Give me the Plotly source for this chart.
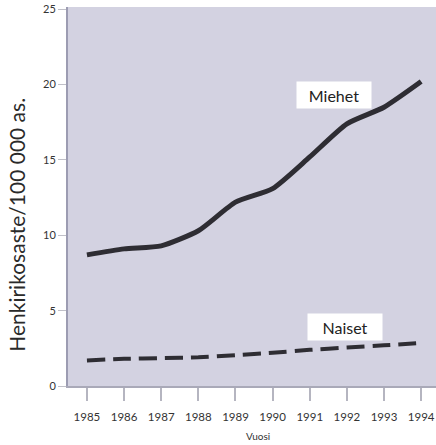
import plotly.graph_objects as go

years = [1985, 1986, 1987, 1988, 1989, 1990, 1991, 1992, 1993, 1994]
miehet = [8.7, 9.1, 9.3, 10.3, 12.2, 13.1, 15.2, 17.4, 18.5, 20.2]
naiset = [1.7, 1.8, 1.85, 1.9, 2.05, 2.2, 2.4, 2.55, 2.7, 2.85]
y_ticks = [0, 5, 10, 15, 20, 25]
x_title = "Vuosi"
y_title = "Henkirikosaste/100 000 as."

fig = go.Figure()
fig.add_trace(go.Scatter(x=years, y=miehet, mode="lines", name="Miehet",
                         line=dict(color="#2e2d33", width=5, shape="spline", smoothing=0.6)))
fig.add_trace(go.Scatter(x=years, y=naiset, mode="lines", name="Naiset",
                         line=dict(color="#2e2d33", width=4, dash="18px,8px", shape="spline", smoothing=0.6)))

fig.add_annotation(x=1991.65, y=19.3, text="Miehet", showarrow=False, bgcolor="white",
                   font=dict(family="Lato", size=16, color="#222"), width=72, height=24)
fig.add_annotation(x=1991.95, y=3.9, text="Naiset", showarrow=False, bgcolor="white",
                   font=dict(family="Lato", size=16, color="#222"), width=72, height=24)
fig.add_annotation(xref="paper", yref="paper", x=0.515, y=-0.153, text=x_title, showarrow=False,
                   font=dict(family="Lato", size=10, color="#333"), yanchor="bottom")
fig.add_annotation(xref="paper", yref="paper", x=-0.139, y=0.425, text=y_title, showarrow=False,
                   textangle=-90, font=dict(family="Lato", size=21, color="#2a2a2a"),
                   xanchor="center", yanchor="middle")

fig.update_layout(
    width=436, height=445,
    margin=dict(l=68, r=0, t=7, b=59),
    paper_bgcolor="white", plot_bgcolor="#d3d2e1",
    showlegend=False,
    font=dict(family="Lato", size=11, color="#333"),
    xaxis=dict(range=[1984.49, 1994.4], tickvals=years, ticks="outside", ticklen=13,
               tickcolor="#b5b5c0", tickwidth=1.5, showgrid=False, zeroline=False,
               showline=True, linecolor="#a9a9b8", linewidth=2, ticklabelstandoff=6,
               tickfont=dict(family="Lato", size=11.5, color="#333")),
    yaxis=dict(range=[0, 25.15], tickvals=y_ticks, ticks="outside", ticklen=8,
               tickcolor="#c0c0c8", showgrid=False, zeroline=False,
               showline=True, linecolor="#9c9cb2", linewidth=2,
               tickfont=dict(family="Lato", size=11, color="#333")),
)

fig.write_html("out.html", config={"displayModeBar": False},
               post_script="document.body.style.margin='0';")
